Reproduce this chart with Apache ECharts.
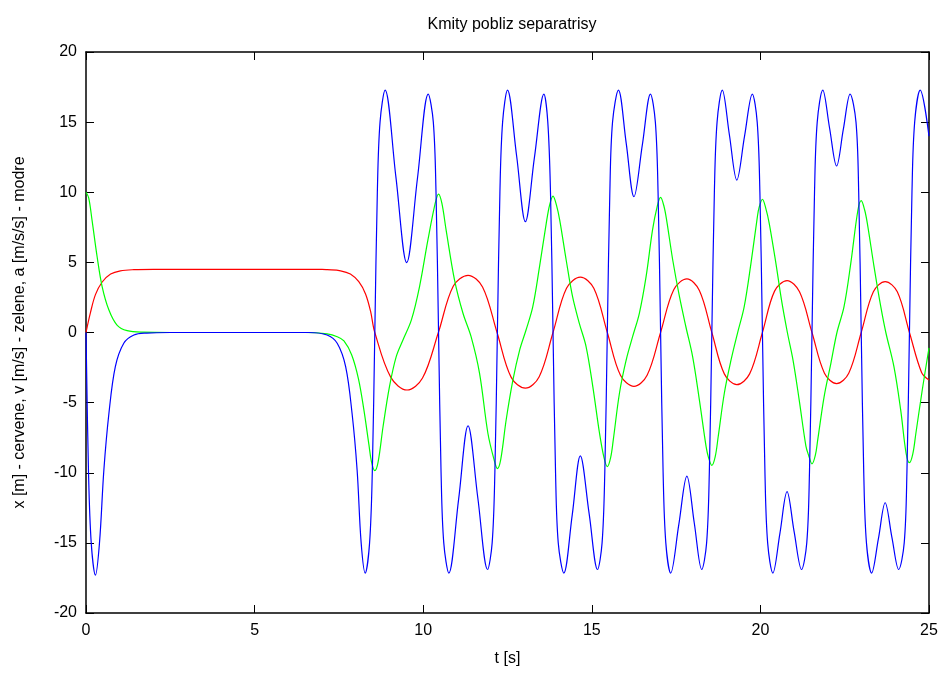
<!DOCTYPE html>
<html>
<head>
    <meta charset="utf-8">
    <title>Kmity pobliz separatrisy</title>
    <script src="https://cdn.jsdelivr.net/npm/echarts@6/dist/echarts.min.js"></script>
    <style>
        html, body { margin: 0; padding: 0; background: #fff; }
        #chart { width: 946px; height: 673px; }
    </style>
</head>
<body>
<div id="chart"></div>
<script type="text/javascript">
    // x [m] - cervena krivka, [t, x]
    var redPoints = [
        [0, 0], [0.13, 1.4], [0.28, 2.7], [0.48, 3.6], [0.73, 4.17], [1.02, 4.4], [1.42, 4.48], [2, 4.5],
        [7, 4.5], [7.15, 4.48], [7.55, 4.4], [7.84, 4.17], [8.09, 3.62], [8.29, 2.75], [8.44, 1.5], [8.565, 0],
        [9.04, -3.2], [9.52, -4.1], [9.98, -3.25], [10.45, 0], [10.89, 3.3], [11.33, 4.08], [11.76, 3.25],
        [12.19, 0], [12.61, -3.2], [13.03, -3.97], [13.44, -3.15], [13.85, 0], [14.25, 3.15], [14.66, 3.95],
        [15.06, 3.15], [15.46, 0], [15.85, -3.05], [16.25, -3.84], [16.64, -3.05], [17.04, 0], [17.43, 3.05],
        [17.82, 3.82], [18.19, 3.0], [18.56, 0], [18.93, -2.95], [19.30, -3.72], [19.68, -2.95], [20.06, 0],
        [20.42, 2.95], [20.79, 3.70], [21.16, 2.9], [21.53, 0], [21.9, -2.9], [22.26, -3.64], [22.62, -2.9],
        [22.99, 0], [23.35, 2.9], [23.70, 3.63], [24.06, 2.9], [24.42, 0], [24.78, -2.85], [25, -3.38]
    ];

    // v [m/s] - zelena krivka
    var greenPoints = [
        [0, 10], [0.08, 9.6], [0.18, 8.0], [0.33, 5.4], [0.48, 3.26], [0.68, 1.6], [0.92, 0.53], [1.22, 0.13],
        [1.7, 0.02], [2.5, 0], [6.5, 0], [7.15, -0.1], [7.45, -0.3], [7.65, -0.6], [7.88, -1.6], [8.08, -3.3],
        [8.24, -5.5], [8.39, -8.0], [8.465, -9.2], [8.565, -9.85], [8.665, -9.2], [8.81, -6.7], [9.0, -3.86],
        [9.2, -1.72], [9.4, -0.53], [9.65, 0.9], [9.89, 3.26], [10.14, 6.6], [10.355, 9.2], [10.455, 9.87],
        [10.555, 9.2], [10.68, 7.3], [10.93, 3.74], [11.18, 1.37], [11.42, -0.3], [11.67, -2.9], [11.92, -7.2],
        [12.1, -9.05], [12.2, -9.7], [12.3, -9.05], [12.46, -6.24], [12.66, -3.4], [12.86, -1.25], [13.05, 0.18],
        [13.25, 1.84], [13.45, 4.7], [13.65, 7.8], [13.75, 9.1], [13.85, 9.73], [13.95, 9.1], [14.05, 8.0],
        [14.24, 5.17], [14.43, 2.55], [14.63, 0.65], [14.83, -1.0], [15.03, -3.86], [15.23, -7.2], [15.36, -8.9],
        [15.46, -9.56], [15.56, -8.9], [15.64, -7.6], [15.82, -4.33], [16.02, -1.96], [16.21, -0.3], [16.41, 1.37],
        [16.61, 3.98], [16.8, 7.3], [16.94, 9.0], [17.04, 9.63], [17.14, 9.0], [17.22, 8.0], [17.4, 5.17],
        [17.6, 2.55], [17.79, 0.41], [17.99, -1.72], [18.19, -4.8], [18.39, -8.14], [18.46, -8.9], [18.56, -9.47],
        [18.66, -8.85], [18.75, -7.4], [18.93, -4.33], [19.13, -1.96], [19.32, -0.06], [19.52, 1.84], [19.72, 4.93],
        [19.91, 8.25], [19.96, 8.9], [20.06, 9.5], [20.16, 8.85], [20.26, 7.8], [20.46, 4.93], [20.62, 2.4],
        [20.8, 0], [20.97, -2.0], [21.15, -4.8], [21.35, -8.1], [21.43, -8.75], [21.53, -9.37], [21.63, -8.75],
        [21.7, -7.66], [21.89, -4.57], [22.09, -2.2], [22.27, 0], [22.48, 1.84], [22.68, 4.93], [22.89, 8.7],
        [22.99, 9.4], [23.09, 8.75], [23.17, 7.8], [23.37, 4.7], [23.57, 1.84], [23.72, 0], [23.96, -2.44],
        [24.16, -5.52], [24.32, -8.6], [24.42, -9.28], [24.52, -8.65], [24.61, -7.2], [24.8, -4.1], [25, -1.1]
    ];

    // a [m/s/s] - modra krivka
    var bluePoints = [
        [0, 0], [0.075, -10], [0.155, -15], [0.28, -17.3], [0.4, -15], [0.53, -9.8], [0.68, -5.76], [0.87, -2.44],
        [1.12, -0.77], [1.42, -0.18], [1.8, -0.04], [2.5, 0], [6.6, 0], [7.15, -0.18], [7.45, -0.77], [7.7, -2.44],
        [7.89, -5.76], [8.04, -9.8], [8.16, -15], [8.28, -17.15], [8.41, -15], [8.49, -10], [8.565, 0],
        [8.64, 10], [8.72, 15], [8.87, 17.28], [9.19, 11.1], [9.51, 4.98], [9.83, 11.0], [10.15, 17.0],
        [10.3, 15], [10.38, 10], [10.455, 0], [10.53, -10], [10.61, -15], [10.76, -17.15], [11.05, -11.9],
        [11.33, -6.65], [11.62, -11.8], [11.91, -16.9], [12.045, -15], [12.125, -10], [12.2, 0],
        [12.275, 10], [12.355, 15], [12.5, 17.28], [12.77, 12.6], [13.03, 7.9], [13.3, 12.5], [13.58, 17.0],
        [13.695, 15], [13.775, 10], [13.85, 0], [13.925, -10], [14.005, -15], [14.17, -17.15], [14.42, -13.0],
        [14.66, -8.8], [14.92, -12.9], [15.17, -16.9], [15.305, -15], [15.385, -10], [15.46, 0],
        [15.535, 10], [15.615, 15], [15.79, 17.28], [16.02, 13.5], [16.25, 9.68], [16.5, 13.4], [16.74, 17.0],
        [16.885, 15], [16.965, 10], [17.04, 0], [17.115, -10], [17.195, -15], [17.34, -17.15], [17.58, -13.7],
        [17.82, -10.24], [18.04, -13.6], [18.26, -16.9], [18.405, -15], [18.485, -10], [18.56, 0],
        [18.635, 10], [18.715, 15], [18.87, 17.28], [19.08, 14.1], [19.3, 10.87], [19.53, 14.0], [19.76, 17.0],
        [19.905, 15], [19.985, 10], [20.06, 0], [20.135, -10], [20.215, -15], [20.37, -17.15], [20.58, -14.3],
        [20.79, -11.35], [21.0, -14.2], [21.22, -16.9], [21.375, -15], [21.455, -10], [21.53, 0],
        [21.605, 10], [21.685, 15], [21.85, 17.28], [22.05, 14.6], [22.26, 11.87], [22.46, 14.5], [22.66, 17.0],
        [22.835, 15], [22.915, 10], [22.99, 0], [23.065, -10], [23.145, -15], [23.3, -17.15], [23.5, -14.7],
        [23.7, -12.14], [23.9, -14.6], [24.1, -16.9], [24.265, -15], [24.345, -10], [24.42, 0],
        [24.495, 10], [24.575, 15], [24.74, 17.28], [25, 14.0]
    ];

    var fontName = 'Liberation Sans';
    var myChart = echarts.init(document.getElementById('chart'), null, { renderer: 'canvas' });

    function axisCommon(show) {
        return {
            type: 'value',
            axisLine: { show: true, onZero: false, lineStyle: { color: '#000', width: 1.5 } },
            axisTick: { show: true, inside: true, length: 8, lineStyle: { color: '#000', width: 1 } },
            axisLabel: { show: show, color: '#000', fontFamily: fontName, fontSize: 16 },
            splitLine: { show: false }
        };
    }

    var xBottom = axisCommon(true);
    xBottom.min = 0; xBottom.max = 25; xBottom.interval = 5;
    xBottom.position = 'bottom';
    xBottom.axisLabel.margin = 10;
    xBottom.name = 't [s]';
    xBottom.nameLocation = 'middle';
    xBottom.nameGap = 38;
    xBottom.nameTextStyle = { color: '#000', fontFamily: fontName, fontSize: 16 };

    var xTop = axisCommon(false);
    xTop.min = 0; xTop.max = 25; xTop.interval = 5;
    xTop.position = 'top';

    var yLeft = axisCommon(true);
    yLeft.min = -20; yLeft.max = 20; yLeft.interval = 5;
    yLeft.position = 'left';
    yLeft.axisLabel.margin = 9;
    yLeft.name = 'x [m] - cervene, v [m/s] - zelene, a [m/s/s] - modre';
    yLeft.nameLocation = 'middle';
    yLeft.nameGap = 58;
    yLeft.nameTextStyle = { color: '#000', fontFamily: fontName, fontSize: 16 };

    var yRight = axisCommon(false);
    yRight.min = -20; yRight.max = 20; yRight.interval = 5;
    yRight.position = 'right';

    function lineSeries(data, color) {
        return {
            type: 'line',
            data: data,
            xAxisIndex: 0,
            yAxisIndex: 0,
            showSymbol: false,
            smooth: 0.35,
            animation: false,
            lineStyle: { color: color, width: 1.2 },
            z: 3
        };
    }

    myChart.setOption({
        backgroundColor: '#fff',
        animation: false,
        title: {
            text: 'Kmity pobliz separatrisy',
            left: 507,
            top: 12,
            textAlign: 'center',
            textStyle: { color: '#000', fontFamily: fontName, fontSize: 16, fontWeight: 'normal' }
        },
        grid: { left: 86, right: 17, top: 52, bottom: 60 },
        xAxis: [xBottom, xTop],
        yAxis: [yLeft, yRight],
        series: [
            lineSeries(redPoints, '#ff0000'),
            lineSeries(greenPoints, '#00ff00'),
            lineSeries(bluePoints, '#0000ff')
        ]
    });
</script>
</body>
</html>
